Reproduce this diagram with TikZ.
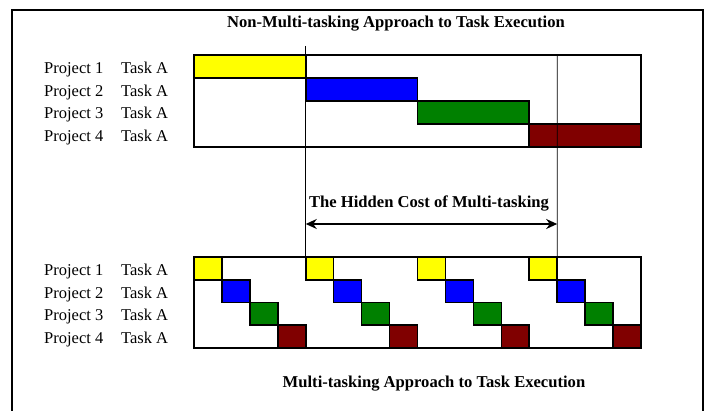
\documentclass[tikz,border=0pt]{standalone}
\usepackage{fontspec}
\setmainfont{Liberation Serif}
\usetikzlibrary{arrows.meta}
\definecolor{cyel}{RGB}{255,255,0}
\definecolor{cblu}{RGB}{0,0,255}
\definecolor{cgrn}{RGB}{0,128,0}
\definecolor{cred}{RGB}{128,0,0}
\tikzset{
  cell/.style={draw, line width=1.6pt, inner sep=0pt, outer sep=0pt, anchor=north west},
  chartframe/.style={draw, line width=1.6pt, inner sep=0pt, outer sep=0pt, anchor=north west, minimum width=447pt},
  lbl/.style={anchor=base west, inner sep=0pt, font=\fontsize{16.5}{19}\selectfont},
  ttl/.style={anchor=base, inner sep=0pt, font=\fontsize{16.6}{19}\selectfont\bfseries},
  guide/.style={line width=0.8pt},
  costarrow/.style={{Stealth[length=11pt,width=10pt]}-{Stealth[length=11pt,width=10pt]}, line width=2.8pt}
}
\begin{document}
\begin{tikzpicture}[x=1pt,y=-1pt]
\useasboundingbox (0,0) rectangle (707,411);
\fill[white] (0,0) rectangle (707,411);
% outer frame
\coordinate (fbl) at (12,411);
\coordinate (ftl) at (12,10);
\coordinate (ftr) at (703,10);
\coordinate (fbr) at (703,411);
\draw[line width=1.6pt] (fbl) -- (ftl) -- (ftr) -- (fbr);
% titles
\node[ttl] (title1) at (396,28) {Non-Multi-tasking Approach to Task Execution};
\node[ttl] (title2) at (434,388) {Multi-tasking Approach to Task Execution};
% labels
\foreach \y [count=\i] in {74,96.5,119,141.7} {
  \node[lbl] (tp\i) at (44,\y) {Project \i};
  \node[lbl] (tt\i) at (121,\y) {Task A};
}
\foreach \y [count=\i] in {276,298.7,321,343.7} {
  \node[lbl] (bp\i) at (44,\y) {Project \i};
  \node[lbl] (bt\i) at (121,\y) {Task A};
}
% top chart
\node[chartframe, minimum height=92pt] (topchart) at (194,55) {};
\foreach \c [count=\i from 0] in {cyel,cblu,cgrn,cred} {
  \pgfmathsetmacro{\xx}{194+\i*111.75}
  \pgfmathsetmacro{\yy}{55+\i*23}
  \node[cell, fill=\c, minimum width=111.75pt, minimum height=23pt] (t\i) at (\xx,\yy) {};
}
\node[chartframe, minimum height=92pt] (topchart2) at (194,55) {};
% bottom chart
\node[chartframe, minimum height=91pt] (botchart) at (194,257) {};
\foreach \k in {0,1,2,3} {
  \foreach \c [count=\i from 0] in {cyel,cblu,cgrn,cred} {
    \pgfmathsetmacro{\xx}{194+(4*\k+\i)*27.9375}
    \pgfmathsetmacro{\yy}{257+\i*22.75}
    \node[cell, fill=\c, minimum width=27.9375pt, minimum height=22.75pt] (b\k\i) at (\xx,\yy) {};
  }
}
\node[chartframe, minimum height=91pt] (botchart2) at (194,257) {};
% guide lines
\coordinate (g1) at (305.75,46);
\coordinate (g2) at (557.19,55);
\draw[guide] (g1) -- (b10.north west);
\draw[guide] (g2) -- (b30.north east);
% cost arrow
\coordinate (a1) at (305.75,224);
\coordinate (a2) at (557.19,224);
\draw[costarrow] (a1) -- (a2);
\node[ttl] (cost) at (429,207.3) {The Hidden Cost of Multi-tasking};
\end{tikzpicture}
\end{document}
